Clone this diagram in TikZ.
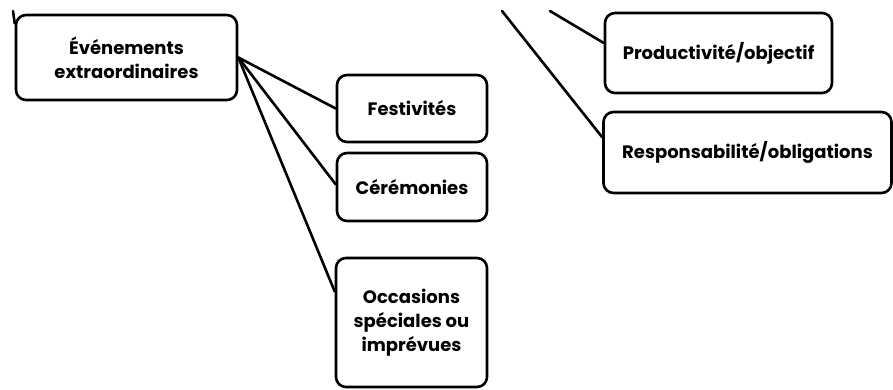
\documentclass[tikz,border=0pt]{standalone}
\usepackage{fontspec}
\setmainfont{Poppins}
\begin{document}
\begin{tikzpicture}[x=1pt,y=-1pt,line join=round,line cap=round,
	boite/.style={draw,line width=2.6pt,rounded corners=10pt,align=center,inner sep=0pt,font=\fontsize{18}{24}\selectfont\bfseries},
	lien/.style={line width=2.6pt}]
	\useasboundingbox (0,0) rectangle (893,389);
	% boites
	\node[boite,minimum width=221pt,minimum height=85pt] (ev) at (126.5,57.5) {Événements\\extraordinaires};
	\node[boite,minimum width=150pt,minimum height=67pt] (fe) at (412,108.5) {Festivités};
	\node[boite,minimum width=150pt,minimum height=68pt] (ce) at (412,187) {Cérémonies};
	\node[boite,minimum width=151pt,minimum height=129pt] (oc) at (411.5,322.5) {Occasions\\spéciales ou\\imprévues};
	\node[boite,minimum width=227pt,minimum height=80pt] (pr) at (718.5,53) {Productivité/objectif};
	\node[boite,minimum width=288pt,minimum height=81pt] (re) at (747.5,152.5) {Responsabilité/obligations};
	% bouts libres en haut
	\coordinate (h1) at (13,11);
	\coordinate (h2) at (502,11);
	\coordinate (h3) at (550,11);
	% liens
	\foreach \b/\a in {fe/180,ce/178,oc/158}{
		\draw[lien] (ev.east) -- (\b.\a);
	}
	\draw[lien] (h1) -- (ev.163);
	\draw[lien] (h2) -- (re.174);
	\draw[lien] (h3) -- (pr.175);
\end{tikzpicture}
\end{document}
